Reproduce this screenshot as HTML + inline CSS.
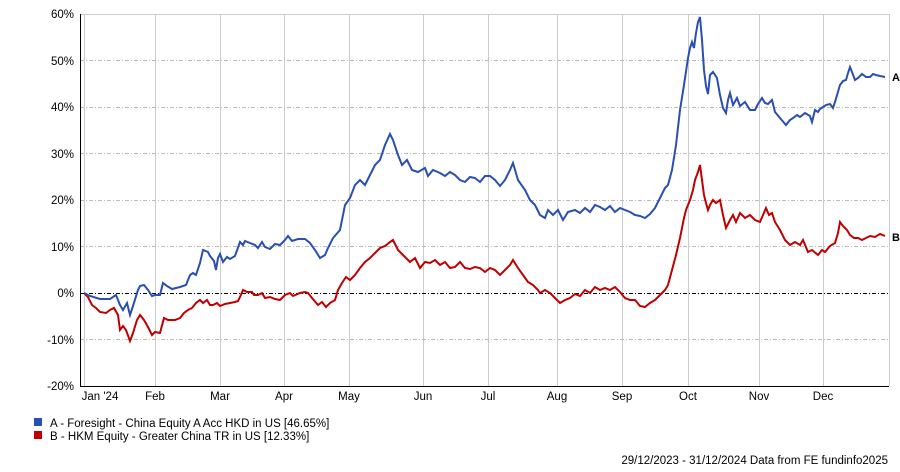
<!DOCTYPE html>
<html><head><style>
body{margin:0;background:#fff;width:900px;height:467px;overflow:hidden}
svg text{font-family:"Liberation Sans",sans-serif;font-size:11.5px;fill:#000}
</style></head><body>
<svg width="900" height="467" xmlns="http://www.w3.org/2000/svg">
<g stroke="#ccc" stroke-width="1">
<line x1="84.5" y1="14" x2="84.5" y2="386"/><line x1="155.5" y1="14" x2="155.5" y2="386"/>
<line x1="220.5" y1="14" x2="220.5" y2="386"/><line x1="284.5" y1="14" x2="284.5" y2="386"/>
<line x1="349.5" y1="14" x2="349.5" y2="386"/><line x1="423.5" y1="14" x2="423.5" y2="386"/>
<line x1="488.5" y1="14" x2="488.5" y2="386"/><line x1="557.5" y1="14" x2="557.5" y2="386"/>
<line x1="622.5" y1="14" x2="622.5" y2="386"/><line x1="688.5" y1="14" x2="688.5" y2="386"/>
<line x1="759.5" y1="14" x2="759.5" y2="386"/><line x1="823.5" y1="14" x2="823.5" y2="386"/>
<line x1="889.5" y1="14" x2="889.5" y2="386"/>
<line x1="80" y1="14.5" x2="889" y2="14.5"/>
</g>
<g stroke="#bbb" stroke-width="1" stroke-dasharray="4,2,1,2">
<line x1="80" y1="60.5" x2="889" y2="60.5"/><line x1="80" y1="107.5" x2="889" y2="107.5"/>
<line x1="80" y1="153.5" x2="889" y2="153.5"/><line x1="80" y1="200.5" x2="889" y2="200.5"/>
<line x1="80" y1="246.5" x2="889" y2="246.5"/><line x1="80" y1="339.5" x2="889" y2="339.5"/>
</g>
<line x1="80" y1="293.5" x2="889" y2="293.5" stroke="#000" stroke-dasharray="4,2,1,2"/>
<line x1="80.5" y1="14" x2="80.5" y2="386" stroke="#000"/>
<line x1="80" y1="386.5" x2="889" y2="386.5" stroke="#000"/>
<g text-anchor="end">
<text x="74" y="18">60%</text><text x="74" y="65">50%</text><text x="74" y="111">40%</text>
<text x="74" y="158">30%</text><text x="74" y="204">20%</text><text x="74" y="251">10%</text>
<text x="74" y="297">0%</text><text x="74" y="344">-10%</text><text x="74" y="390">-20%</text>
</g>
<g text-anchor="middle">
<text x="100" y="400">Jan '24</text><text x="155" y="400">Feb</text><text x="220" y="400">Mar</text>
<text x="284" y="400">Apr</text><text x="349" y="400">May</text><text x="423" y="400">Jun</text>
<text x="488" y="400">Jul</text><text x="557" y="400">Aug</text><text x="622" y="400">Sep</text>
<text x="688" y="400">Oct</text><text x="759" y="400">Nov</text><text x="823" y="400">Dec</text>
</g>
<polyline fill="none" stroke="#c00000" stroke-width="2" points="84,293 88,297 92,305 96,308 100,312 106,313 110,310 114,308 118,315 120,330 123,326 126,330 130,341 133,333 137,320 140,315 144,320 148,327 152,335 155,332 160,333 164,318 168,320 175,320 180,318 184,313 188,310 192,308 196,303 200,300 203,303 207,300 210,305 213,305 217,303 220,306 225,304 230,303 235,302 238,301 240,297 243,290 247,292 252,292 254,295 258,295 262,293 265,298 270,297 275,299 280,300 285,295 290,293 293,296 300,293 305,292 308,293 312,298 318,305 322,302 326,307 330,303 335,300 338,290 342,283 346,277 350,280 355,275 360,268 365,262 370,258 375,253 380,248 385,246 390,242 393,240 398,250 403,255 406,258 410,262 415,258 420,268 425,262 430,263 435,260 440,265 445,262 450,268 455,267 460,262 465,268 470,269 475,267 480,268 485,272 490,268 495,270 500,275 505,270 510,265 513,260 518,268 523,275 528,282 533,285 538,290 540,293 545,290 550,293 555,298 560,303 565,300 570,298 575,294 580,296 585,290 590,293 595,287 600,290 605,288 610,290 615,287 620,292 625,298 630,300 635,300 640,306 645,307 650,303 655,300 660,295 665,290 668,285 672,270 676,255 680,238 684,218 686,210 688,205 690,200 693,190 695,180 698,172 700,165 702,180 704,195 706,203 708,210 710,205 713,200 716,203 720,200 723,215 726,228 730,220 733,215 736,222 740,213 745,218 750,215 755,220 760,222 763,215 766,208 769,215 772,213 775,222 780,230 785,240 790,245 795,242 800,245 803,240 808,252 812,250 818,255 822,250 825,252 830,246 835,243 838,233 840,222 843,226 847,230 850,235 854,238 858,238 862,240 866,238 870,236 875,237 880,234 885,236"/>
<polyline fill="none" stroke="#2a4fb0" stroke-width="2" points="84,293 90,296 100,299 110,299 116,295 120,305 123,310 127,303 130,315 133,306 138,290 140,286 144,285 148,290 152,296 155,295 160,295 163,283 167,286 172,289 180,287 186,285 190,275 193,273 196,275 200,263 203,250 208,252 210,256 214,261 216,270 218,258 220,254 223,262 227,257 230,259 235,256 240,242 243,245 245,241 250,243 255,245 258,248 262,242 265,247 270,249 275,244 280,245 285,240 288,236 292,241 298,239 305,239 310,243 315,250 320,258 325,255 328,248 333,238 340,230 345,205 350,198 355,185 360,180 365,185 370,175 375,165 380,160 385,145 390,134 393,140 398,155 402,165 407,160 412,170 418,172 425,168 428,176 433,170 440,173 445,176 450,172 455,175 460,180 465,182 470,177 475,178 480,182 485,176 490,176 495,180 500,186 505,180 510,170 513,163 518,180 525,190 530,200 535,205 540,215 545,218 548,210 553,215 558,210 563,220 568,212 575,210 580,213 585,208 590,212 595,205 600,207 605,210 610,206 615,212 620,208 625,210 630,212 635,215 640,216 645,218 650,214 655,208 660,198 665,188 668,185 672,170 676,145 680,110 684,85 688,58 690,48 692,42 694,48 696,33 698,22 700,17 702,40 704,70 706,86 708,94 710,75 713,72 717,78 720,95 723,108 726,113 728,100 730,93 733,105 737,98 740,106 745,102 750,110 755,110 758,104 762,98 765,103 768,104 772,100 775,112 780,118 786,125 790,120 793,118 797,115 800,117 805,113 810,116 812,122 815,110 818,112 820,109 826,105 830,104 833,108 835,102 840,85 843,81 846,80 848,73 850,67 852,72 855,80 858,78 862,74 866,77 870,77 873,74 876,75 880,76 885,77"/>
<text x="892" y="81" style="font-weight:bold;font-size:11px">A</text>
<text x="892" y="241" style="font-weight:bold;font-size:11px">B</text>
<rect x="34" y="418" width="8" height="8" fill="#2a4fb0"/>
<rect x="34" y="431" width="8" height="8" fill="#c00000"/>
<text x="50" y="427">A - Foresight - China Equity A Acc HKD in US [46.65%]</text>
<text x="50" y="440">B - HKM Equity - Greater China TR in US [12.33%]</text>
<text x="888" y="464" text-anchor="end">29/12/2023 - 31/12/2024 Data from FE fundinfo2025</text>
</svg>
</body></html>
